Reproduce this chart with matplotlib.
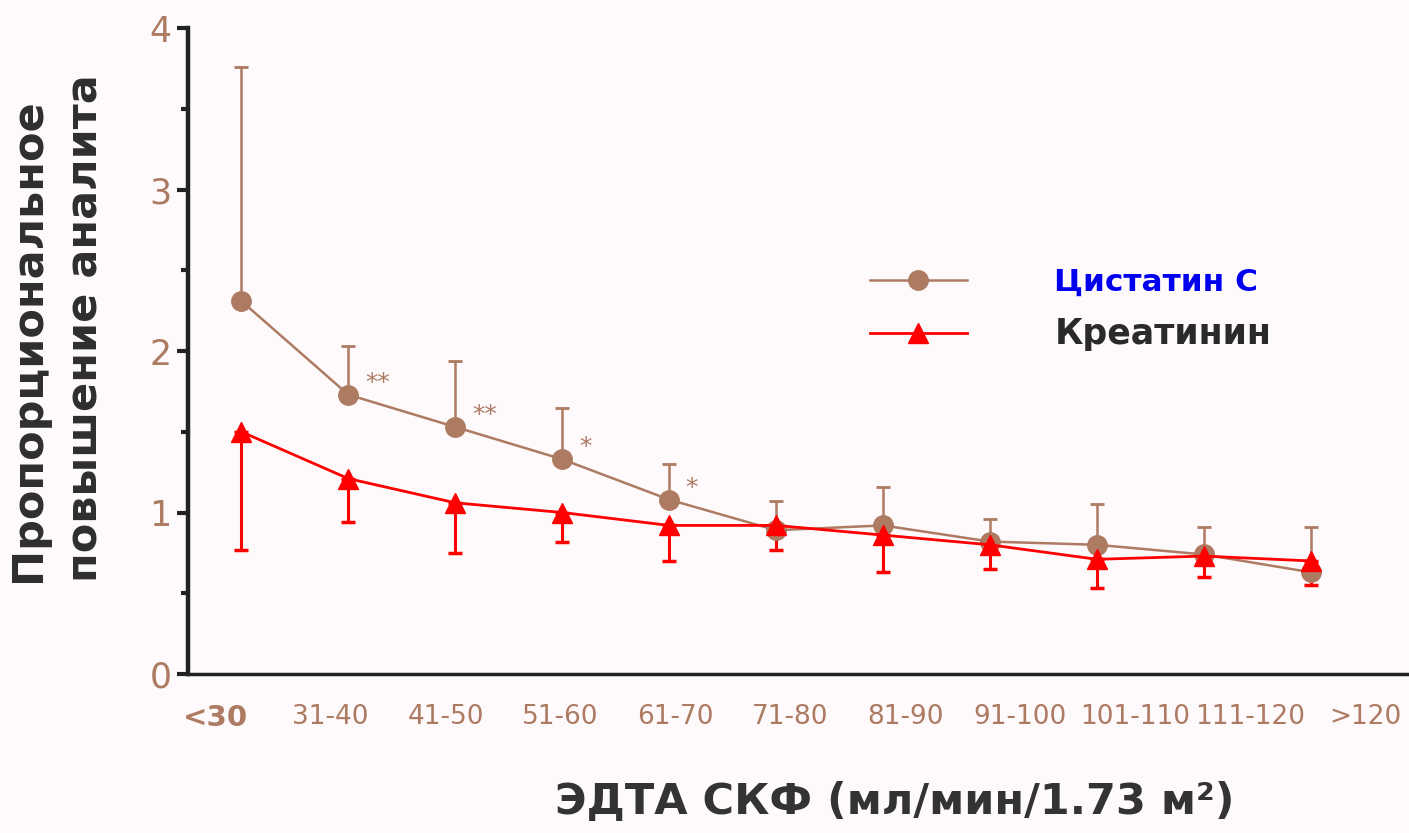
import matplotlib.pyplot as plt
import numpy as np

# groups of EDTA GFR
groups = ['<30', '31-40', '41-50', '51-60', '61-70', '71-80', '81-90',
          '91-100', '101-110', '111-120', '>120']

# cystatin C: mean and upper error bound
cys_mean = [2.31, 1.73, 1.53, 1.33, 1.08, 0.89, 0.92, 0.82, 0.80, 0.74, 0.63]
cys_upper = [3.76, 2.03, 1.94, 1.65, 1.30, 1.07, 1.16, 0.96, 1.05, 0.91, 0.91]

# creatinine: mean and lower error bound
cre_mean = [1.50, 1.21, 1.06, 1.00, 0.92, 0.92, 0.86, 0.80, 0.71, 0.73, 0.70]
cre_lower = [0.77, 0.94, 0.75, 0.82, 0.70, 0.77, 0.63, 0.65, 0.53, 0.60, 0.55]

# significance marks (group index, text)
sig_marks = [(1, '**'), (2, '**'), (3, '*'), (4, '*')]

BROWN = '#ad7a62'
RED = '#ff0000'
BG = '#fefafc'

fig = plt.figure(figsize=(14.09, 8.33), dpi=100, facecolor=BG)
ax = fig.add_axes([0.1334, 0.191, 0.8666, 0.775], facecolor=BG)

x = np.arange(len(groups))
cys_m = np.array(cys_mean)
cre_m = np.array(cre_mean)

# error bars (one-sided)
ax.errorbar(x, cys_m, yerr=[np.zeros_like(cys_m), np.array(cys_upper) - cys_m],
            fmt='none', ecolor=BROWN, capsize=5, capthick=2, elinewidth=1.8,
            zorder=2)
ax.errorbar(x, cre_m, yerr=[cre_m - np.array(cre_lower), np.zeros_like(cre_m)],
            fmt='none', ecolor=RED, capsize=5, capthick=2.5, elinewidth=2.2,
            zorder=3)

# lines with markers
ax.plot(x, cys_m, color=BROWN, lw=1.8, marker='o', ms=14,
        label='Цистатин C', zorder=3)
ax.plot(x, cre_m, color=RED, lw=2.0, marker='^', ms=14,
        label='Креатинин', zorder=4)

for i, s in sig_marks:
    ax.annotate(s, (x[i], cys_m[i]), xytext=(12, 0), textcoords='offset points',
                color=BROWN, fontsize=18, ha='left', va='bottom')

ax.set_xlim(-0.5, 10.92)
ax.set_ylim(0, 4)

# axes styling
for side in ['top', 'right']:
    ax.spines[side].set_visible(False)
ax.spines['left'].set_linewidth(3.2)
ax.spines['bottom'].set_linewidth(2.5)
ax.spines['left'].set_color('#222222')
ax.spines['bottom'].set_color('#222222')

ax.set_yticks([0, 1, 2, 3, 4])
ax.set_yticks([0.5, 1.5, 2.5, 3.5], minor=True)
ax.tick_params(axis='y', which='major', length=8, width=3, color='#222222',
               labelsize=25, labelcolor=BROWN, pad=4)
ax.tick_params(axis='y', which='minor', length=5, width=3, color='#222222')

tick_pos = np.arange(len(groups)) * 1.075 - 0.24
ax.set_xticks(tick_pos)
ax.set_xticklabels(groups)
ax.tick_params(axis='x', length=0, labelsize=19, labelcolor=BROWN, pad=22)
ax.get_xticklabels()[0].set_fontweight('bold')
ax.get_xticklabels()[0].set_fontsize(21)

ax.set_ylabel('Пропорциональное\nповышение аналита', fontsize=31,
              fontweight='bold', color='#2e2e2e',
              linespacing=1.45, multialignment='left')
ax.yaxis.set_label_coords(-0.067, 0.536)
ax.set_xlabel('ЭДТА СКФ (мл/мин/1.73 м²)', fontsize=31, fontweight='bold',
              color='#333333')
ax.xaxis.set_label_coords(0.579, -0.166)

leg = ax.legend(loc='center left', bbox_to_anchor=(0.5586, 0.565),
                frameon=False, borderpad=0, borderaxespad=0,
                handlelength=3.1, handletextpad=2.8, labelspacing=0.65,
                prop={'weight': 'bold', 'size': 22.5})
leg.get_texts()[0].set_color('#0000ee')
leg.get_texts()[1].set_color('#2a2a2a')
leg.get_texts()[1].set_fontsize(25)

fig.savefig('out.png', dpi=100, facecolor=BG)
